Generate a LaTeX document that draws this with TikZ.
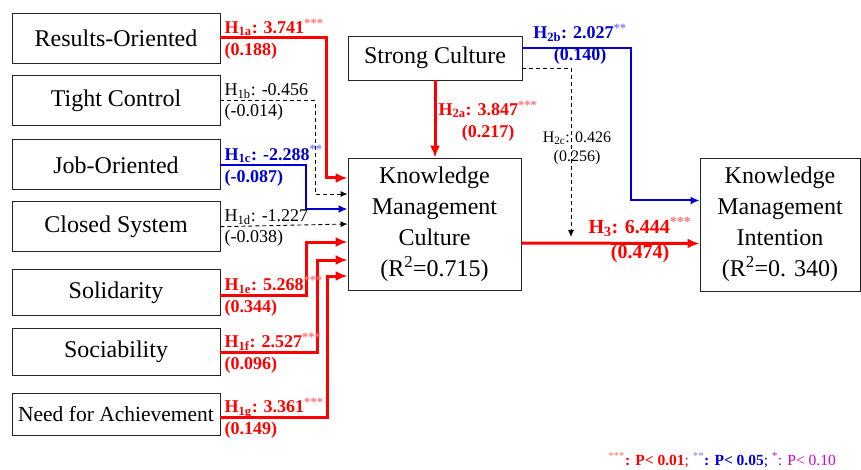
\documentclass[tikz,border=0pt]{standalone}
\usepackage{fontspec}
\setmainfont{Liberation Serif}
\usetikzlibrary{positioning,calc,arrows.meta}
\colorlet{sigRed}{red!55!white}
\definecolor{pathBlue}{RGB}{0,0,210}
\colorlet{sigBlue}{pathBlue!50!white}
\definecolor{sigMagenta}{RGB}{210,0,210}

\begin{document}
\begin{tikzpicture}[x=1pt, y=-1pt,
        every node/.style={align=center, font=\fontsize{24}{30}\selectfont},
        culturebox/.style={draw=black!85, line width=0.9pt, minimum width=208pt, inner sep=2pt},
        hlabel/.style={font=\fontsize{18}{22}\selectfont\bfseries, inner sep=1pt, align=left, anchor=west},
        nlabel/.style={font=\fontsize{18}{21}\selectfont, inner sep=1pt, align=left, anchor=west},
        redpath/.style={draw=red, line width=3pt, -{Latex[length=12pt,width=10pt]}},
        bluepath/.style={draw=pathBlue, line width=2pt, -{Latex[length=9pt,width=8pt]}},
        nspath/.style={draw=black, line width=0.9pt, dash pattern=on 4pt off 3pt, -{Latex[length=7pt,width=6pt]}}]
    \useasboundingbox (0,0) rectangle (861,470);

    % organisational culture dimensions
    \node[culturebox, minimum height=50pt] (RO) at (116,38) {Results-Oriented};
    \node[culturebox, minimum height=50pt, below=12pt of RO] (TC) {Tight Control};
    \node[culturebox, minimum height=50pt, below=13pt of TC] (JO) {Job-Oriented};
    \node[culturebox, minimum height=50pt, below=11pt of JO] (CS) {Closed System};
    \node[culturebox, minimum height=46pt, below=17pt of CS] (SO) {Solidarity};
    \node[culturebox, minimum height=47pt, below=12pt of SO] (SB) {Sociability};
    \node[culturebox, minimum height=42pt, below=17pt of SB, font=\fontsize{21.5}{26}\selectfont] (NA) {Need for Achievement};

    % constructs
    \node[draw=black!85, line width=0.9pt, minimum width=174pt, minimum height=44pt] (SC) at (435,58) {Strong Culture};
    \node[draw=black!85, line width=0.9pt, minimum width=173pt, minimum height=132pt, font=\fontsize{24}{31}\selectfont] (KMC) at (434.5,224)
        {Knowledge\\Management\\Culture\\(R\textsuperscript{2}=0.715)};
    \node[draw=black!85, line width=0.9pt, minimum width=160pt, minimum height=133pt, font=\fontsize{24}{31}\selectfont] (KMI) at (780,224.5)
        {Knowledge\\Management\\Intention\\(R\textsuperscript{2}=0. 340)};
    \coordinate (c2c) at (571,237);

    % H1 paths
    \draw[redpath] (RO.east) -| ([xshift=-21pt,yshift=46pt]KMC.west) -- ([yshift=46pt]KMC.west);
    \draw[nspath] (TC.east) -| ([xshift=-32pt,yshift=30pt]KMC.west) -- ([yshift=30pt]KMC.west);
    \draw[bluepath] (JO.east) -| ([xshift=-42pt,yshift=15pt]KMC.west) -- ([yshift=15pt]KMC.west);
    \draw[nspath] (CS.east) -- (KMC.west);
    \draw[redpath] ([yshift=-3pt]SO.east) -| ([xshift=-41pt,yshift=-18pt]KMC.west) -- ([yshift=-18pt]KMC.west);
    \draw[redpath] (SB.east) -| ([xshift=-30pt,yshift=-36pt]KMC.west) -- ([yshift=-36pt]KMC.west);
    \draw[redpath] ([yshift=-3pt]NA.east) -| ([xshift=-20pt,yshift=-52pt]KMC.west) -- ([yshift=-52pt]KMC.west);

    \node[hlabel, text=red] (l1a) at ([xshift=3pt,yshift=-1pt]RO.east) {H\textsubscript{1a}: 3.741\textsuperscript{\color{sigRed}***}\\(0.188)};
    \node[nlabel] (l1b) at ([xshift=3pt,yshift=-1pt]TC.east) {H\textsubscript{1b}: -0.456\\(-0.014)};
    \node[hlabel, text=pathBlue] (l1c) at ([xshift=3pt,yshift=-1pt]JO.east) {H\textsubscript{1c}: -2.288\textsuperscript{\color{sigBlue}**}\\(-0.087)};
    \node[nlabel] (l1d) at ([xshift=3pt,yshift=-1pt]CS.east) {H\textsubscript{1d}: -1.227\\(-0.038)};
    \node[hlabel, text=red] (l1e) at ([xshift=3pt,yshift=-4pt]SO.east) {H\textsubscript{1e}: 5.268\textsuperscript{\color{sigRed}***}\\(0.344)};
    \node[hlabel, text=red] (l1f) at ([xshift=3pt,yshift=-1pt]SB.east) {H\textsubscript{1f}: 2.527\textsuperscript{\color{sigRed}***}\\(0.096)};
    \node[hlabel, text=red] (l1g) at ([xshift=3pt,yshift=-4pt]NA.east) {H\textsubscript{1g}: 3.361\textsuperscript{\color{sigRed}***}\\(0.149)};

    % H2 and H3 paths
    \draw[redpath] (SC.south) -- (SC.south |- KMC.north);
    \draw[bluepath] ([yshift=10pt]SC.east) -| ([xshift=-69pt,yshift=24pt]KMI.west) -- ([yshift=24pt]KMI.west);
    \draw[nspath] ([yshift=-10pt]SC.east) -| (c2c);
    \draw[redpath] ([yshift=-19pt]KMC.east) -- ([yshift=-19pt]KMI.west);

    \node[hlabel, text=red, align=center, anchor=center] (l2a) at (488,121) {H\textsubscript{2a}: 3.847\textsuperscript{\color{sigRed}***}\\(0.217)};
    \node[hlabel, text=pathBlue, align=center, anchor=center] (l2b) at (580,44) {H\textsubscript{2b}: 2.027\textsuperscript{\color{sigBlue}**}\\(0.140)};
    \node[nlabel, font=\fontsize{16}{19}\selectfont, align=center, anchor=center] (l2c) at (577,148) {H\textsubscript{2c}: 0.426\\(0.256)};
    \node[hlabel, text=red, font=\fontsize{20}{25}\selectfont\bfseries, align=center, anchor=center] (l3) at (640,240) {H\textsubscript{3}: 6.444\textsuperscript{\color{sigRed}***}\\(0.474)};

    % significance legend
    \node[anchor=base east, inner sep=0pt, font=\fontsize{15.5}{18}\selectfont] (legend) at (836,465)
        {\textcolor{sigRed}{\textsuperscript{***}}\textcolor{red}{\textbf{: P< 0.01}; }\textcolor{sigBlue}{\textsuperscript{**}}\textcolor{pathBlue}{\textbf{: P< 0.05}; }\textcolor{sigMagenta}{\textsuperscript{*}: P< 0.10}};
\end{tikzpicture}
\end{document}
